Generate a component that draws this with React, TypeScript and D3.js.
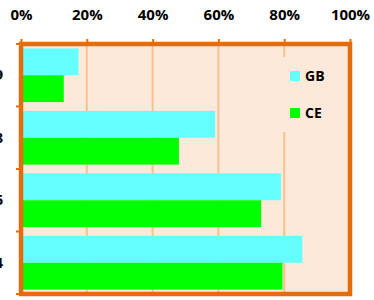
import React, { useEffect, useRef } from 'react';
import { select, scaleBand, scaleLinear, axisTop, axisLeft, format } from 'd3';

// categories top to bottom (labels are cut off at the left edge in the original)
const categories = ['2009', '2008', '2006', '2004'];
const seriesKeys = ['GB', 'CE'];
const gbValues = [0.175, 0.59, 0.79, 0.855];
const ceValues = [0.13, 0.48, 0.73, 0.795];
const xTicks = [0, 0.2, 0.4, 0.6, 0.8, 1];

const colors = { GB: '#66FFFF', CE: '#00FF00' };
const orange = '#E46C0A';
const bg = '#FDE9D9';
const gridColor = '#FAC090';

export default function App() {
  const svgRef = useRef(null);
  const width = 374;
  const height = 300;
  const left = 21;
  const right = 350;
  const top = 44;
  const bottom = 294;

  useEffect(() => {
    const svg = select(svgRef.current);
    svg.selectAll('*').remove();

    const x = scaleLinear().domain([0, 1]).range([left, right]);
    const y0 = scaleBand()
      .domain(categories)
      .range([top, bottom])
      .paddingInner(0.14)
      .paddingOuter(0.07);
    const y1 = scaleBand().domain(seriesKeys).range([0, y0.bandwidth()]);

    const data = categories.map((c, i) => ({ name: c, GB: gbValues[i], CE: ceValues[i] }));

    // plot background
    svg
      .append('rect')
      .attr('x', left)
      .attr('y', top)
      .attr('width', right - left)
      .attr('height', bottom - top)
      .attr('fill', bg);

    // gridlines
    svg
      .append('g')
      .selectAll('line')
      .data(xTicks.slice(1, -1))
      .join('line')
      .attr('x1', (d) => x(d))
      .attr('x2', (d) => x(d))
      .attr('y1', top)
      .attr('y2', bottom)
      .attr('stroke', gridColor)
      .attr('stroke-width', 2);

    // bars
    svg
      .append('g')
      .selectAll('g')
      .data(data)
      .join('g')
      .attr('transform', (d) => `translate(0,${y0(d.name)})`)
      .selectAll('rect')
      .data((d) => seriesKeys.map((k) => ({ key: k, value: d[k] })))
      .join('rect')
      .attr('x', x(0))
      .attr('y', (d) => y1(d.key))
      .attr('width', (d) => x(d.value) - x(0))
      .attr('height', y1.bandwidth())
      .attr('fill', (d) => colors[d.key]);

    // legend
    const legend = svg.append('g');
    legend
      .append('rect')
      .attr('x', 280)
      .attr('y', 57)
      .attr('width', 64)
      .attr('height', 75)
      .attr('fill', bg);
    seriesKeys.forEach((k, i) => {
      const ly = 71 + i * 37;
      legend
        .append('rect')
        .attr('x', 290)
        .attr('y', ly)
        .attr('width', 10)
        .attr('height', 10)
        .attr('fill', colors[k]);
      legend
        .append('text')
        .attr('x', 305)
        .attr('y', ly + 10)
        .attr('font-family', 'Open Sans, sans-serif')
        .attr('font-weight', 'bold')
        .attr('font-size', 14)
        .attr('fill', '#000')
        .text(k);
    });

    // border
    svg
      .append('rect')
      .attr('x', left)
      .attr('y', top)
      .attr('width', right - left)
      .attr('height', bottom - top)
      .attr('fill', 'none')
      .attr('stroke', orange)
      .attr('stroke-width', 4.5);

    // top axis
    const xAxis = axisTop(x)
      .tickValues(xTicks)
      .tickFormat(format('.0%'))
      .tickSize(5)
      .tickPadding(19)
      .tickSizeOuter(0);
    svg
      .append('g')
      .attr('transform', `translate(0,${top})`)
      .call(xAxis)
      .call((g) => g.select('.domain').remove())
      .call((g) => g.selectAll('.tick line').attr('stroke', orange).attr('stroke-width', 2))
      .call((g) =>
        g
          .selectAll('.tick text')
          .attr('fill', '#000')
          .attr('font-family', 'Open Sans, sans-serif')
          .attr('font-weight', 'bold')
          .attr('font-size', 15)
      );

    // left axis
    const yAxis = axisLeft(y0).tickSize(0).tickPadding(18);
    svg
      .append('g')
      .attr('transform', `translate(${left},0)`)
      .call(yAxis)
      .call((g) => g.select('.domain').remove())
      .call((g) =>
        g
          .selectAll('.tick text')
          .attr('fill', '#000')
          .attr('font-family', 'Open Sans, sans-serif')
          .attr('font-weight', 'bold')
          .attr('font-size', 15)
      );

    // left tick marks at band boundaries
    const bounds = [top, ...categories.slice(1).map((c) => y0(c) - (y0.step() - y0.bandwidth()) / 2), bottom];
    svg
      .append('g')
      .selectAll('line')
      .data(bounds)
      .join('line')
      .attr('x1', left - 5)
      .attr('x2', left)
      .attr('y1', (d) => d)
      .attr('y2', (d) => d)
      .attr('stroke', orange)
      .attr('stroke-width', 2);
  }, []);

  return (
    <div style={{ position: 'absolute', left: 0, top: 0 }}>
      <svg ref={svgRef} width={width} height={height} style={{ display: 'block' }} />
    </div>
  );
}
